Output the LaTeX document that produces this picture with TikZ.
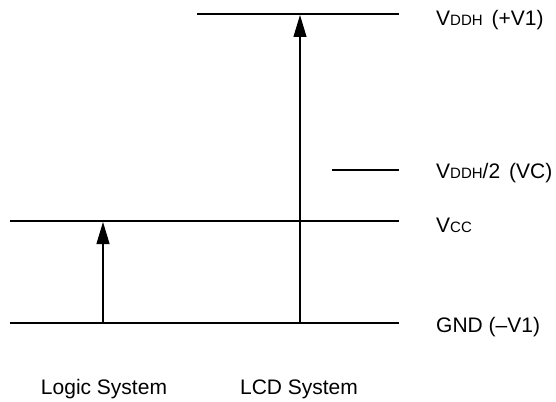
\documentclass[tikz,border=0pt]{standalone}
\usepackage{fontspec}
\setmainfont{Liberation Sans}
\usetikzlibrary{arrows.meta}
\newcommand{\sm}[1]{{\fontsize{15}{18}\selectfont #1}}
\begin{document}
\begin{tikzpicture}[x=1pt,y=-1pt,
  lvl/.style={line width=1.1pt},
  up/.style={line width=1.1pt,-{Triangle[length=22pt,width=13pt]}},
  lbl/.style={anchor=base west,inner sep=0pt,font=\fontsize{21}{24}\selectfont},
  sys/.style={anchor=base,inner sep=0pt,font=\fontsize{21}{24}\selectfont}]
\useasboundingbox (0,0) rectangle (556,401);
% level end points
\coordinate (vdhL) at (197,14);
\coordinate (vdhR) at (399,14);
\coordinate (vcL) at (332,170);
\coordinate (vcR) at (399,170);
\coordinate (vccL) at (10,221);
\coordinate (vccR) at (399,221);
\coordinate (gndL) at (10,323);
\coordinate (gndR) at (399,323);
\coordinate (a1s) at (103,323);
\coordinate (a1e) at (103,222);
\coordinate (a2s) at (300,323);
\coordinate (a2e) at (300,15);
\draw[lvl] (vdhL) -- (vdhR);
\draw[lvl] (vcL) -- (vcR);
\draw[lvl] (vccL) -- (vccR);
\draw[lvl] (gndL) -- (gndR);
\draw[up] (a1s) -- (a1e);
\draw[up] (a2s) -- (a2e);
% labels
\node[lbl] (tv1) at (436,26) {V\sm{DDH}\hspace{9pt}(+V1)};
\node[lbl] (tvc) at (436,178) {V\sm{DDH}/2\hspace{9pt}(VC)};
\node[lbl] (tvcc) at (436,232) {V\sm{CC}};
\node[lbl] (tgnd) at (436,332) {GND (–V1)};
\node[sys] (tlog) at (104,394) {Logic System};
\node[sys] (tlcd) at (299,394) {LCD System};
\end{tikzpicture}
\end{document}
